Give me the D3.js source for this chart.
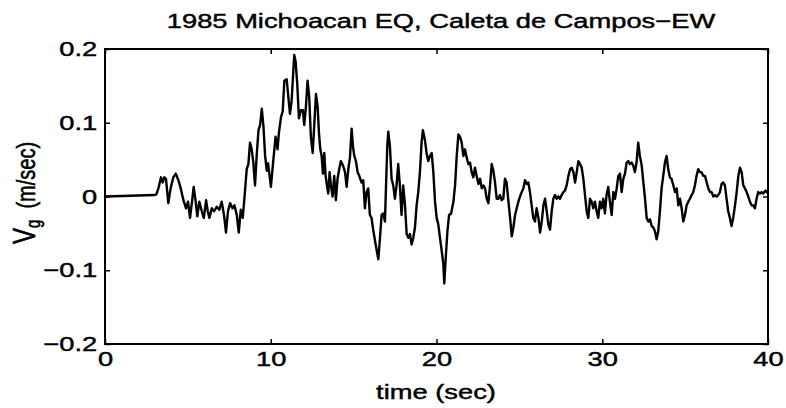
<!DOCTYPE html>
<html>
<head>
<meta charset="utf-8">
<script src="https://cdn.jsdelivr.net/npm/d3@7"></script>
<style>
  body { margin: 0; background: #fff; }
  svg text { font-family: "Liberation Sans", Arial, Helvetica, sans-serif; fill: #000; stroke: #000; stroke-width: 0.45px; }
</style>
</head>
<body>
<svg id="chart" width="786" height="408"></svg>
<script>
// ground velocity record
var timeSec = [
  0, 3.0, 3.1, 3.22, 3.38, 3.48, 3.58, 3.68, 3.82, 3.96,
  4.12, 4.27, 4.43, 4.57, 4.73, 4.89, 5.01, 5.13, 5.25, 5.35,
  5.47, 5.57, 5.69, 5.84, 5.96, 6.10, 6.20, 6.30, 6.44, 6.58,
  6.74, 6.90, 7.04, 7.18, 7.30, 7.42, 7.55, 7.69, 7.81, 7.95,
  8.07, 8.19, 8.31, 8.41, 8.55, 8.65, 8.75, 8.85, 8.95, 9.05,
  9.15, 9.26, 9.36, 9.46, 9.56, 9.66, 9.76, 9.84, 10.01, 10.15,
  10.29, 10.41, 10.49, 10.62, 10.72, 10.82, 10.96, 11.06, 11.16, 11.26,
  11.36, 11.42, 11.50, 11.60, 11.70, 11.82, 11.94, 12.02, 12.12, 12.22,
  12.32, 12.42, 12.53, 12.63, 12.73, 12.83, 12.91, 12.99, 13.07, 13.15,
  13.23, 13.31, 13.39, 13.47, 13.55, 13.63, 13.73, 13.83, 13.93, 14.03,
  14.13, 14.23, 14.36, 14.48, 14.58, 14.68, 14.78, 14.88, 14.96, 15.04,
  15.14, 15.24, 15.34, 15.48, 15.58, 15.68, 15.78, 15.88, 15.98, 16.08,
  16.18, 16.29, 16.39, 16.49, 16.59, 16.69, 16.79, 16.89, 16.95, 17.03,
  17.09, 17.19, 17.29, 17.39, 17.49, 17.59, 17.69, 17.79, 17.89, 17.99,
  18.10, 18.20, 18.30, 18.40, 18.50, 18.60, 18.70, 18.80, 18.90, 19.00,
  19.10, 19.18, 19.30, 19.40, 19.50, 19.61, 19.71, 19.81, 19.91, 20.01,
  20.11, 20.21, 20.31, 20.41, 20.47, 20.56, 20.66, 20.76, 20.88, 21.02,
  21.12, 21.22, 21.32, 21.42, 21.52, 21.62, 21.72, 21.82, 21.92, 22.02,
  22.12, 22.22, 22.32, 22.42, 22.53, 22.63, 22.73, 22.83, 22.93, 23.03,
  23.13, 23.23, 23.33, 23.43, 23.53, 23.63, 23.73, 23.83, 23.93, 24.03,
  24.13, 24.23, 24.34, 24.44, 24.54, 24.64, 24.74, 24.84, 24.94, 25.04,
  25.14, 25.24, 25.34, 25.44, 25.54, 25.64, 25.74, 25.84, 25.94, 26.04,
  26.15, 26.25, 26.35, 26.45, 26.55, 26.65, 26.75, 26.85, 26.95, 27.05,
  27.15, 27.25, 27.35, 27.45, 27.55, 27.65, 27.75, 27.85, 27.96, 28.06,
  28.16, 28.26, 28.36, 28.46, 28.56, 28.66, 28.76, 28.86, 28.96, 29.06,
  29.16, 29.26, 29.36, 29.46, 29.56, 29.66, 29.76, 29.86, 29.96, 30.06,
  30.16, 30.26, 30.36, 30.46, 30.57, 30.67, 30.77, 30.87, 30.97, 31.07,
  31.17, 31.27, 31.37, 31.47, 31.57, 31.67, 31.77, 31.87, 31.97, 32.07,
  32.17, 32.27, 32.38, 32.48, 32.58, 32.68, 32.78, 32.88, 32.98, 33.08,
  33.18, 33.28, 33.38, 33.48, 33.58, 33.68, 33.78, 33.88, 33.98, 34.08,
  34.18, 34.29, 34.39, 34.49, 34.59, 34.69, 34.79, 34.89, 34.99, 35.09,
  35.19, 35.29, 35.39, 35.49, 35.59, 35.69, 35.79, 35.89, 35.99, 36.09,
  36.20, 36.30, 36.40, 36.50, 36.60, 36.70, 36.80, 36.90, 37.00, 37.10,
  37.20, 37.30, 37.40, 37.50, 37.60, 37.70, 37.80, 37.90, 38.01, 38.11,
  38.21, 38.31, 38.41, 38.51, 38.61, 38.71, 38.81, 38.91, 39.01, 39.11,
  39.21, 39.31, 39.41, 39.51, 39.61, 39.71, 39.85, 40.0
];

var vg = [
  0, 0.002, 0.003, 0.011, 0.026, 0.019, 0.026, 0.024, -0.009, 0.011,
  0.026, 0.031, 0.022, 0.011, -0.005, -0.016, -0.007, -0.029, -0.007, 0.013,
  -0.007, -0.027, -0.007, -0.020, -0.029, -0.005, -0.020, -0.029, -0.016, -0.020,
  -0.014, -0.018, -0.007, -0.025, -0.049, -0.020, -0.009, -0.016, -0.012, -0.025,
  -0.049, -0.018, -0.029, -0.003, 0.037, 0.044, 0.073, 0.064, 0.046, 0.015,
  0.055, 0.090, 0.097, 0.119, 0.095, 0.055, 0.035, 0.045, 0.013, 0.048,
  0.081, 0.064, 0.086, 0.108, 0.115, 0.157, 0.159, 0.135, 0.112, 0.130,
  0.170, 0.192, 0.183, 0.152, 0.106, 0.117, 0.117, 0.097, 0.121, 0.157,
  0.135, 0.081, 0.059, 0.099, 0.139, 0.121, 0.086, 0.064, 0.055, 0.031,
  0.059, 0.028, 0.015, 0.004, 0.033, 0.015, 0.000, 0.028, -0.005, 0.024,
  0.037, 0.048, 0.042, 0.033, 0.013, 0.037, 0.053, 0.092, 0.068, 0.055,
  0.048, 0.033, 0.028, 0.019, 0.022, -0.016, 0.006, 0.011, -0.025, -0.029,
  -0.045, -0.060, -0.073, -0.085, -0.056, -0.025, -0.023, -0.034, 0.011, 0.068,
  0.088, 0.068, 0.024, 0.015, -0.003, 0.015, 0.044, 0.015, -0.025, 0.015,
  -0.012, -0.051, -0.056, -0.051, -0.065, -0.056, -0.042, -0.012, 0.006, 0.033,
  0.073, 0.090, 0.077, 0.059, 0.048, 0.055, 0.059, 0.033, -0.007, -0.029,
  -0.038, -0.056, -0.073, -0.091, -0.118, -0.082, -0.047, -0.025, -0.023, -0.007,
  0.015, 0.055, 0.084, 0.081, 0.073, 0.055, 0.064, 0.053, 0.044, 0.046,
  0.033, 0.026, 0.039, 0.028, 0.017, 0.024, 0.011, 0.015, 0.011, -0.003,
  -0.009, 0.015, 0.044, 0.035, 0.019, -0.003, -0.003, 0.002, -0.005, -0.003,
  0.024, 0.019, -0.007, -0.029, -0.054, -0.042, -0.025, -0.016, -0.007, 0.000,
  0.006, 0.011, 0.022, 0.017, 0.019, 0.006, -0.012, -0.029, -0.034, -0.016,
  -0.029, -0.049, -0.034, -0.012, -0.003, -0.020, -0.038, -0.045, -0.020, -0.003,
  0.002, -0.003, 0.000, -0.003, 0.002, 0.006, 0.008, 0.015, 0.028, 0.037,
  0.039, 0.033, 0.019, 0.033, 0.048, 0.044, 0.039, 0.024, 0.002, -0.020,
  -0.029, -0.003, -0.007, -0.016, -0.007, -0.020, -0.029, -0.007, -0.016, -0.003,
  -0.023, 0.002, 0.013, -0.007, -0.025, 0.006, -0.003, 0.011, 0.028, 0.031,
  0.006, 0.024, 0.031, 0.046, 0.048, 0.044, 0.046, 0.042, 0.033, 0.046,
  0.073, 0.055, 0.042, 0.019, -0.003, -0.029, -0.034, -0.031, -0.040, -0.042,
  -0.047, -0.058, -0.047, -0.020, 0.011, 0.028, 0.046, 0.055, 0.037, 0.026,
  0.024, 0.015, 0.006, 0.011, -0.012, -0.003, -0.016, -0.034, -0.025, -0.012,
  -0.007, -0.003, 0.002, 0.006, 0.015, 0.028, 0.037, 0.033, 0.033, 0.028,
  0.028, 0.019, 0.011, 0.006, 0.006, 0.000, 0.002, 0.000, 0.002, 0.006,
  0.017, 0.019, 0.015, -0.003, -0.020, -0.029, -0.040, -0.029, -0.012, 0.006,
  0.028, 0.039, 0.033, 0.015, 0.011, 0.006, 0.000, -0.007, -0.012, -0.012,
  -0.016, -0.003, 0.006, 0.004, 0.006, 0.004, 0.008, 0.004
];

var xTicks = [0, 10, 20, 30, 40];
var yTicks = [-0.2, -0.1, 0, 0.1, 0.2];
var yTickLabels = ["\u22120.2", "\u22120.1", "0", "0.1", "0.2"];

var titleText = "1985 Michoacan EQ, Caleta de Campos\u2212EW";
var xLabel = "time (sec)";

function main() {
  var svg = d3.select('#chart');
  var left = 105, right = 768, top = 49, bottom = 344;
  var stretch = 1.3; // the scanned figure is wider than it is tall

  var x = d3.scaleLinear().domain([0, 40]).range([left, right]);
  var y = d3.scaleLinear().domain([-0.2, 0.2]).range([bottom, top]);

  // trace
  var pts = timeSec.map(function(t, i) { return [t, vg[i]]; });
  var line = d3.line()
      .x(function(d) { return x(d[0]); })
      .y(function(d) { return y(d[1]); });
  svg.append('path')
      .datum(pts)
      .attr('d', line)
      .attr('fill', 'none')
      .attr('stroke', '#000')
      .attr('stroke-width', 2.4)
      .attr('stroke-linejoin', 'round');

  // axes, ticks pointing inward
  var fmtY = function(d) { return yTickLabels[yTicks.indexOf(d)]; };
  var gL = svg.append('g').attr('transform', 'translate(' + left + ',0)')
      .call(d3.axisLeft(y).tickValues(yTicks).tickSize(-5).tickPadding(6).tickFormat(fmtY));
  var gB = svg.append('g').attr('transform', 'translate(0,' + bottom + ')')
      .call(d3.axisBottom(x).tickValues(xTicks).tickSize(-5).tickPadding(7).tickFormat(d3.format('d')));
  svg.append('g').attr('transform', 'translate(' + right + ',0)')
      .call(d3.axisRight(y).tickValues(yTicks).tickSize(-5).tickFormat(''));
  svg.append('g').attr('transform', 'translate(0,' + top + ')')
      .call(d3.axisTop(x).tickValues(xTicks).tickSize(-5).tickFormat(''));

  svg.selectAll('.domain').remove();
  svg.selectAll('.tick line').attr('stroke', '#000').attr('stroke-width', 1.5);
  svg.selectAll('.tick text')
      .attr('font-size', 21)
      .attr('font-family', '"Liberation Sans", Arial, sans-serif')
      .attr('fill', '#000');
  gL.selectAll('.tick text').attr('transform', 'scale(' + stretch + ',1)');
  gB.selectAll('.tick text').attr('transform', 'scale(' + stretch + ',1)');

  // frame
  svg.append('rect')
      .attr('x', left).attr('y', top)
      .attr('width', right - left).attr('height', bottom - top)
      .attr('fill', 'none')
      .attr('stroke', '#000')
      .attr('stroke-width', 2);

  // title
  svg.append('g')
      .attr('transform', 'translate(441,28) scale(' + stretch + ',1)')
      .append('text')
      .attr('text-anchor', 'middle')
      .attr('font-size', 21)
      .text(titleText);

  // x label
  svg.append('g')
      .attr('transform', 'translate(436,399) scale(' + stretch + ',1)')
      .append('text')
      .attr('text-anchor', 'middle')
      .attr('font-size', 21)
      .text(xLabel);

  // y label with subscript
  var yl = svg.append('g')
      .attr('transform', 'translate(35,193) rotate(-90) scale(1,' + stretch + ')')
      .append('text')
      .attr('text-anchor', 'middle')
      .attr('font-size', 20);
  yl.append('tspan').attr('font-size', 24).text('V');
  yl.append('tspan').attr('font-size', 15).attr('dy', 4).text('g');
  yl.append('tspan').attr('dy', -4).text('\u00a0\u00a0(m/sec)');
}

main();
</script>
</body>
</html>
